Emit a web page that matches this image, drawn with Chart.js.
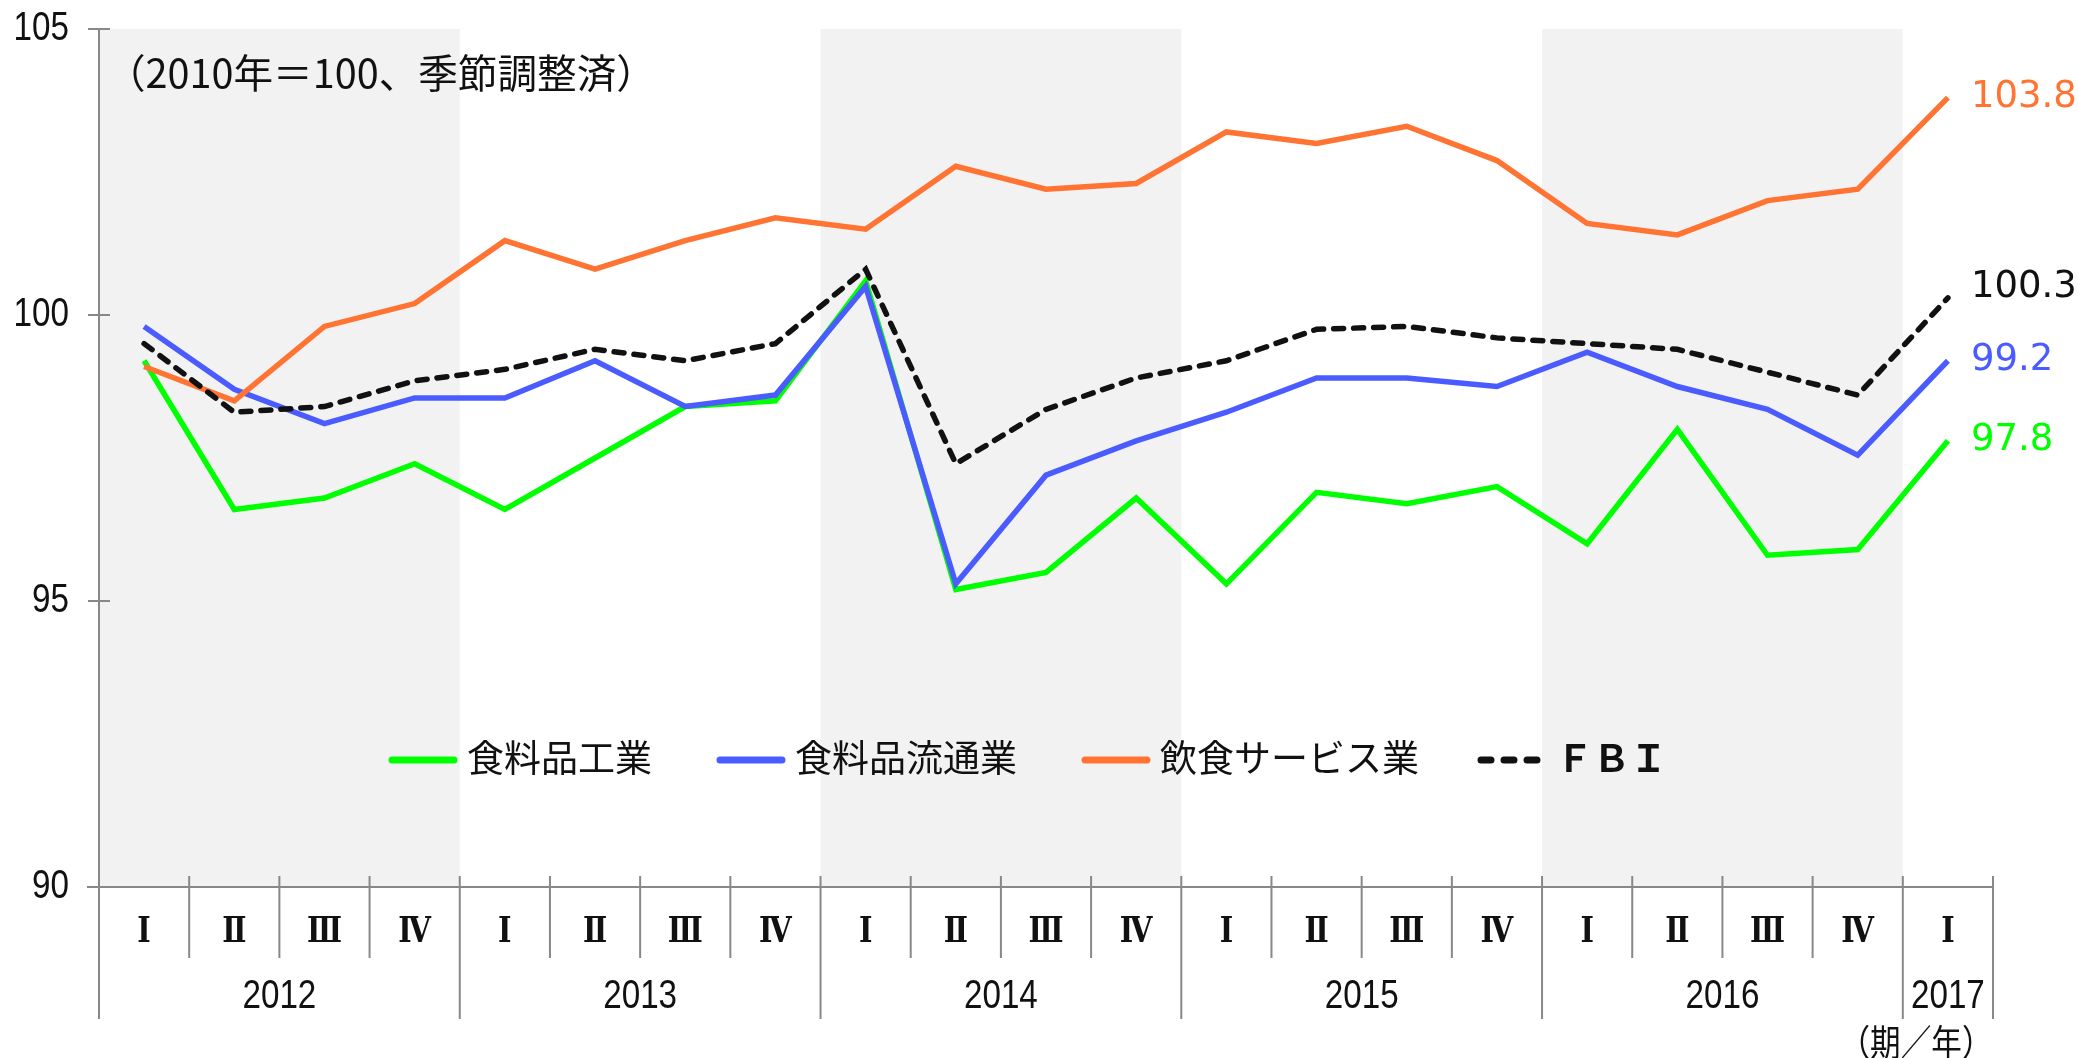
<!DOCTYPE html>
<html lang="ja">
<head>
    <meta charset="UTF-8">
    <title>FBI</title>
    <script src="https://cdn.jsdelivr.net/npm/chart.js"></script>
    <style>
        body { margin: 0; background: #fff; }
        #containerCanvas { width: 2078px; height: 1058px; }
    </style>
</head>
<body>
    <div id="containerCanvas">
        <canvas id="myChart"></canvas>
    </div>

<script>
// categorias (trimestres) e anos
var quarters = ["Ⅰ","Ⅱ","Ⅲ","Ⅳ","Ⅰ","Ⅱ","Ⅲ","Ⅳ","Ⅰ","Ⅱ","Ⅲ","Ⅳ","Ⅰ","Ⅱ","Ⅲ","Ⅳ","Ⅰ","Ⅱ","Ⅲ","Ⅳ","Ⅰ"];
var years = ["2012", "2013", "2014", "2015", "2016", "2017"];
var yearSpans = [4, 4, 4, 4, 4, 1];
var shadedYears = ["2012", "2014", "2016"];
var yTicks = [90, 95, 100, 105];

// series
var shokuryohinKogyo = [99.2, 96.6, 96.8, 97.4, 96.6, 97.5, 98.4, 98.5, 100.6, 95.2, 95.5, 96.8, 95.3, 96.9, 96.7, 97.0, 96.0, 98.0, 95.8, 95.9, 97.8];
var shokuryohinRyutsu = [99.8, 98.7, 98.1, 98.55, 98.55, 99.2, 98.4, 98.6, 100.5, 95.3, 97.2, 97.8, 98.3, 98.9, 98.9, 98.75, 99.35, 98.75, 98.35, 97.55, 99.2];
var inshokuService = [99.1, 98.5, 99.8, 100.2, 101.3, 100.8, 101.3, 101.7, 101.5, 102.6, 102.2, 102.3, 103.2, 103.0, 103.3, 102.7, 101.6, 101.4, 102.0, 102.2, 103.8];
var fbi = [99.5, 98.3, 98.4, 98.85, 99.05, 99.4, 99.2, 99.5, 100.8, 97.4, 98.35, 98.9, 99.2, 99.75, 99.8, 99.6, 99.5, 99.4, 99.0, 98.6, 100.3];

var seriesNames = ["食料品工業", "食料品流通業", "飲食サービス業", "ＦＢＩ"];
var seriesColors = ["#00ff00", "#4a5cff", "#ff7433", "#111111"];

var gray = "#888888";
var fontJP = '"Noto Sans CJK JP", "Noto Sans", sans-serif';

function drawText(ctx, text, x, y, size, family, color, align, sx, weight) {
    ctx.save();
    ctx.translate(x, y);
    ctx.scale(sx || 1, 1);
    ctx.font = (weight || "normal") + " " + size + "px " + family;
    ctx.fillStyle = color;
    ctx.textAlign = align || "left";
    ctx.textBaseline = "middle";
    ctx.fillText(text, 0, 0);
    ctx.restore();
}

var eixos = {
    id: "eixos",
    beforeDatasetsDraw: function (chart) {
        var ctx = chart.ctx;
        var x = chart.scales.x;
        var y = chart.scales.y;
        var area = chart.chartArea;
        var half = (x.getPixelForValue(1) - x.getPixelForValue(0)) / 2;

        // faixas cinzas
        var idx = 0;
        ctx.save();
        ctx.fillStyle = "#f2f2f2";
        for (var i = 0; i < years.length; i++) {
            if (shadedYears.indexOf(years[i]) >= 0) {
                var l = x.getPixelForValue(idx) - half;
                var r = x.getPixelForValue(idx + yearSpans[i] - 1) + half;
                ctx.fillRect(l, area.top, r - l, area.bottom - area.top);
            }
            idx += yearSpans[i];
        }

        ctx.strokeStyle = gray;
        ctx.lineWidth = 2;
        ctx.beginPath();
        // eixo y
        ctx.moveTo(area.left, area.top);
        ctx.lineTo(area.left, area.bottom + 132);
        // eixo x
        ctx.moveTo(area.left - 12, area.bottom);
        ctx.lineTo(area.right, area.bottom);
        // ticks y
        for (var t = 0; t < yTicks.length; t++) {
            var py = y.getPixelForValue(yTicks[t]);
            ctx.moveTo(area.left - 11, py);
            ctx.lineTo(area.left + 11, py);
        }
        // separadores trimestres / anos
        var bounds = [0];
        var acc = 0;
        for (var k = 0; k < yearSpans.length; k++) { acc += yearSpans[k]; bounds.push(acc); }
        for (var q = 0; q <= quarters.length; q++) {
            var px = x.getPixelForValue(q) - half;
            var isYear = bounds.indexOf(q) >= 0;
            ctx.moveTo(px, area.bottom - 11);
            ctx.lineTo(px, area.bottom + (isYear ? 132 : 71));
        }
        ctx.stroke();
        ctx.restore();

        // labels y
        for (var t2 = 0; t2 < yTicks.length; t2++) {
            drawText(ctx, String(yTicks[t2]), area.left - 30, y.getPixelForValue(yTicks[t2]), 40, '"Liberation Sans", sans-serif', "#111", "right", 0.83);
        }
        // labels trimestres
        for (var q2 = 0; q2 < quarters.length; q2++) {
            drawText(ctx, quarters[q2], x.getPixelForValue(q2), area.bottom + 46, 36, '"DejaVu Serif", serif', "#111", "center", 0.8, "bold");
        }
        // labels anos
        var start = 0;
        for (var a = 0; a < years.length; a++) {
            var cx = (x.getPixelForValue(start) + x.getPixelForValue(start + yearSpans[a] - 1)) / 2;
            drawText(ctx, years[a], cx, area.bottom + 110, 40, '"Liberation Sans", sans-serif', "#111", "center", 0.83);
            start += yearSpans[a];
        }
        drawText(ctx, "（期／年）", area.right - 77, area.bottom + 155, 36, fontJP, "#111", "center", 0.85);
        drawText(ctx, "（2010年＝100、季節調整済）", 106, 73, 40, fontJP, "#111", "left", 0.99);
    },
    afterDatasetsDraw: function (chart) {
        var ctx = chart.ctx;
        // legenda
        var lx = 388;
        var ly = 760;
        for (var i = 0; i < seriesNames.length; i++) {
            ctx.save();
            ctx.strokeStyle = seriesColors[i];
            ctx.lineWidth = 7;
            ctx.lineCap = "round";
            if (i == 3) ctx.setLineDash([10, 13]);
            ctx.beginPath();
            ctx.moveTo(lx + 4, ly);
            ctx.lineTo(lx + 66, ly);
            ctx.stroke();
            ctx.restore();
            var weight = i == 3 ? "bold" : "normal";
            ctx.font = weight + " 37px " + fontJP;
            var w = ctx.measureText(seriesNames[i]).width;
            drawText(ctx, seriesNames[i], lx + 79, ly - 2, 37, fontJP, "#111", "left", 1, weight);
            lx += 79 + w + (i == 2 ? 58 : 64);
        }

        // valores finais
        chart.data.datasets.forEach(function (ds, n) {
            var meta = chart.getDatasetMeta(n);
            var p = meta.data[meta.data.length - 1];
            var v = ds.data[ds.data.length - 1];
            var dy = n == 3 ? -10 : 0;
            drawText(ctx, v.toFixed(1), p.x + 23, p.y + dy, 37, '"DejaVu Sans", sans-serif', ds.borderColor == "#111111" ? "#111" : ds.borderColor, "left");
        });
    }
};

var dados = {
    labels: quarters,
    datasets: [
        { label: seriesNames[0], data: shokuryohinKogyo, borderColor: seriesColors[0], order: 4 },
        { label: seriesNames[1], data: shokuryohinRyutsu, borderColor: seriesColors[1], order: 3 },
        { label: seriesNames[2], data: inshokuService, borderColor: seriesColors[2], order: 2 },
        { label: seriesNames[3], data: fbi, borderColor: seriesColors[3], order: 1, borderDash: [10, 10], borderCapStyle: "round" }
    ]
};

dados.datasets.forEach(function (ds) {
    ds.borderWidth = 5.5;
    ds.pointRadius = 0;
    ds.tension = 0;
    ds.fill = false;
});

const config = {
    type: "line",
    data: dados,
    options: {
        responsive: true,
        maintainAspectRatio: false,
        animation: false,
        layout: { padding: { left: 99, right: 85, top: 29, bottom: 171 } },
        plugins: { legend: { display: false }, tooltip: { enabled: false } },
        scales: {
            x: { display: false, offset: true },
            y: { display: false, min: 90, max: 105 }
        }
    },
    plugins: [eixos]
};

let myChart = new Chart(document.getElementById("myChart"), config);
</script>
</body>
</html>
